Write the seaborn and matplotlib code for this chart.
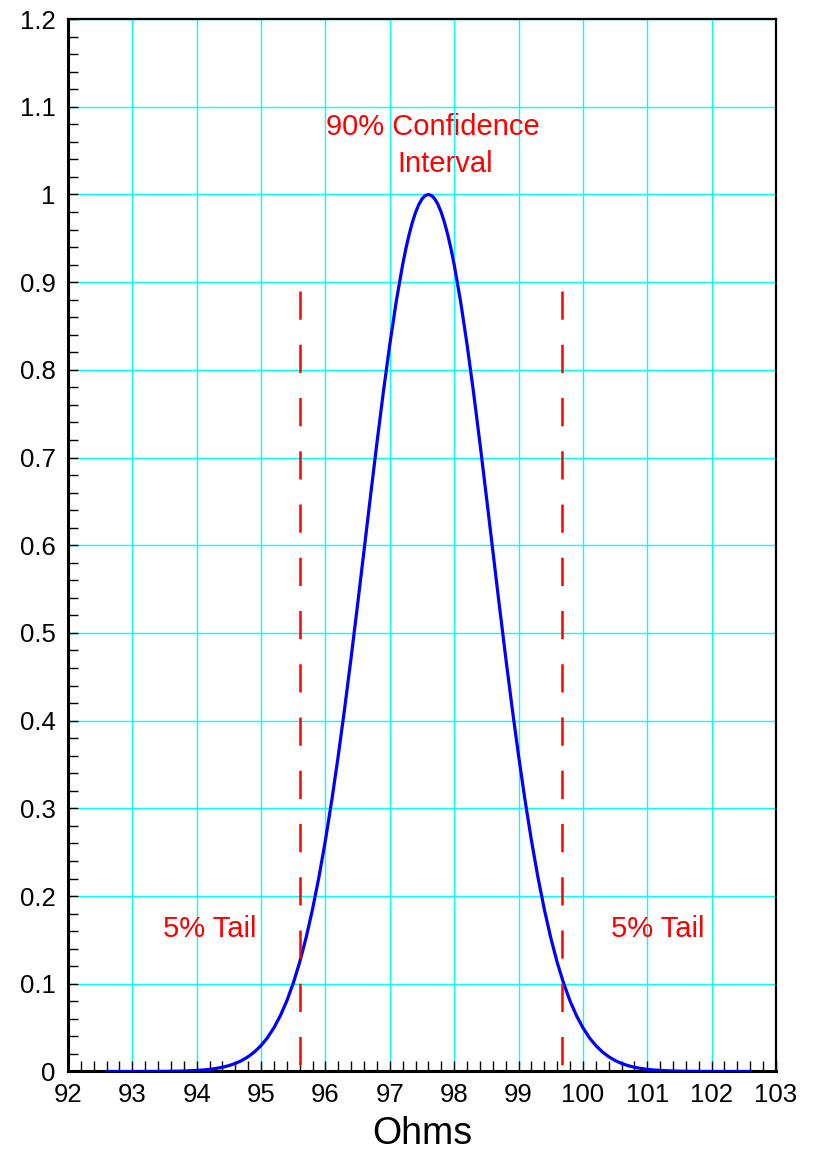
import numpy as np
import pandas as pd
import matplotlib
matplotlib.use("Agg")
import matplotlib.pyplot as plt
from matplotlib.ticker import MultipleLocator, FuncFormatter
import seaborn as sns

# Relative likelihood of a resistor's value (ohms)
ohms = [92.6, 92.8, 93.0, 93.2, 93.4, 93.6, 93.8,
        94.0, 94.1, 94.2, 94.3, 94.4, 94.5, 94.6, 94.7, 94.8, 94.9,
        95.0, 95.1, 95.2, 95.3, 95.4, 95.5, 95.6, 95.7, 95.8, 95.9,
        96.0, 96.1, 96.2, 96.3, 96.4, 96.5, 96.6, 96.7, 96.8, 96.9,
        97.0, 97.1, 97.2, 97.25, 97.3, 97.35, 97.4, 97.45, 97.5, 97.55,
        97.6,
        97.65, 97.7, 97.75, 97.8, 97.85, 97.9, 97.95, 98.0, 98.1,
        98.2, 98.3, 98.4, 98.5, 98.6, 98.7, 98.8, 98.9, 99.0, 99.1,
        99.2, 99.3, 99.4, 99.5, 99.6, 99.7, 99.8, 99.9, 100.0, 100.1,
        100.2, 100.3, 100.4, 100.5, 100.6, 100.7, 100.8, 100.9, 101.0,
        101.1, 101.2,
        101.4, 101.6, 101.8, 102.0, 102.2, 102.4, 102.6]
likelihood = [0.0, 0.0, 0.00001, 0.00004, 0.0001, 0.00024, 0.00054,
              0.0012, 0.0017, 0.0024, 0.0035, 0.0048, 0.0067, 0.0092, 0.0125, 0.0169, 0.0225,
              0.0296, 0.0386, 0.0499, 0.0637, 0.0805, 0.1007, 0.1246, 0.1527, 0.1851, 0.2221,
              0.2637, 0.3099, 0.3604, 0.4149, 0.4725, 0.5326, 0.5942, 0.6559, 0.7166, 0.7748,
              0.8291, 0.8779, 0.9201, 0.9382, 0.9542, 0.9680, 0.9794, 0.9884, 0.9948, 0.9987,
              1.0,
              0.9987, 0.9948, 0.9884, 0.9794, 0.9680, 0.9542, 0.9382, 0.9201, 0.8779,
              0.8291, 0.7748, 0.7166, 0.6559, 0.5942, 0.5326, 0.4725, 0.4149, 0.3604, 0.3099,
              0.2637, 0.2221, 0.1851, 0.1527, 0.1246, 0.1007, 0.0805, 0.0637, 0.0499, 0.0386,
              0.0296, 0.0225, 0.0169, 0.0125, 0.0092, 0.0067, 0.0048, 0.0035, 0.0024,
              0.0017, 0.0012,
              0.00054, 0.00024, 0.0001, 0.00004, 0.00001, 0.0, 0.0]

# 90% confidence interval bounds
ci_bounds = [95.6, 99.68]
ci_top = 0.89

sns.set_theme(style="white")
plt.rcParams["font.family"] = ["Liberation Sans", "DejaVu Sans"]

fig = plt.figure(figsize=(8.17, 11.53), dpi=100)
ax = fig.add_axes([0.0832, 0.0707, 0.9498 - 0.0832, 0.9835 - 0.0707])

df = pd.DataFrame({"Ohms": ohms, "Likelihood": likelihood})

ax.set_xlim(92, 103)
ax.set_ylim(0, 1.2)

ax.xaxis.set_major_locator(MultipleLocator(1))
ax.xaxis.set_minor_locator(MultipleLocator(0.2))
ax.yaxis.set_major_locator(MultipleLocator(0.1))
ax.yaxis.set_minor_locator(MultipleLocator(0.02))
ax.yaxis.set_major_formatter(FuncFormatter(lambda v, p: f"{round(v, 2):g}"))
ax.xaxis.set_major_formatter(FuncFormatter(lambda v, p: f"{int(round(v))}"))

ax.grid(True, which="major", color="#00FFFF", linewidth=1.0)
ax.set_axisbelow(True)

sns.lineplot(data=df, x="Ohms", y="Likelihood", ax=ax, color="#0000FF",
             linewidth=2.3, sort=False, estimator=None, zorder=3)

for b in ci_bounds:
    ax.plot([b, b], [ci_top, 0], color="#FF0000", linewidth=1.8,
            linestyle=(0, (11.3, 10.0)), zorder=4)

ax.tick_params(axis="both", which="both", direction="in", color="black",
               top=False, right=False, bottom=True, left=True)
ax.tick_params(axis="both", which="major", length=7, width=1.0,
               labelsize=18.5, labelcolor="black")
ax.tick_params(axis="both", which="minor", length=7, width=1.0)
ax.tick_params(axis="x", which="major", pad=8)
ax.tick_params(axis="y", which="major", pad=9)

for side, sp in ax.spines.items():
    sp.set_color("black")
    sp.set_linewidth(1.6 if side in ("top", "right") else 2.2)
    sp.set_visible(True)

ax.set_xlabel("Ohms", fontsize=27, color="black", labelpad=7)
ax.set_ylabel("")

txt = dict(color="#FF0000", fontsize=21, ha="left", va="baseline", zorder=5)
ax.text(96.006, 1.068, "90% Confidence", **txt)
ax.text(97.12, 1.026, "Interval", **txt)
ax.text(93.475, 0.153, "5% Tail", **txt)
ax.text(100.43, 0.153, "5% Tail", **txt)

fig.savefig("out.png", dpi=100)
